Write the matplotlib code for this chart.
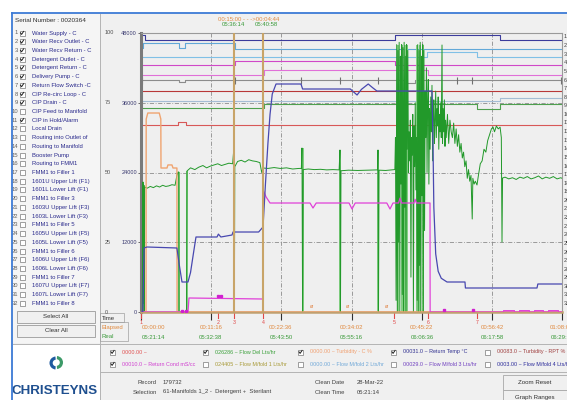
import numpy as np
import matplotlib.pyplot as plt
from matplotlib.patches import Rectangle, Wedge

plt.rcParams['font.family'] = ['Liberation Sans', 'DejaVu Sans']

# ---- left channel list ----
channels = ["Water Supply - C", "Water Recv Outlet - C", "Water Recv Return - C",
            "Detergent Outlet - C", "Detergent Return - C", "Delivery Pump - C",
            "Return Flow Switch -C", "CIP Re-circ Loop - C", "CIP Drain - C",
            "CIP Feed to Manifold", "CIP in Hold/Alarm", "Local Drain",
            "Routing into Outlet of", "Routing to Manifold", "Booster Pump",
            "Routing to FMM1", "FMM1 to Filler 1", "1601U Upper Lift (F1)",
            "1601L Lower Lift (F1)", "FMM1 to Filler 3", "1603U Upper Lift (F3)",
            "1603L Lower Lift (F3)", "FMM1 to Filler 5", "1605U Upper Lift (F5)",
            "1605L Lower Lift (F5)", "FMM1 to Filler 6", "1606U Upper Lift (F6)",
            "1606L Lower Lift (F6)", "FMM1 to Filler 7", "1607U Upper Lift (F7)",
            "1607L Lower Lift (F7)", "FMM1 to Filler 8"]
checked = [1, 2, 3, 4, 5, 6, 7, 8, 9, 11]

# ---- digital channels: switch times (min) and level held after each ----
ch1_t = [0, 0.65, 41.03, 57.99]
ch1_v = [47655, 46795, 47655, 46795]
ch2_t = [0, 0.4, 6.14, 7.11, 15.18]
ch2_v = [45419, 46279, 45419, 46279, 45299]
ch3_t = [0, 46.2, 54.27]
ch3_v = [43870, 44730, 43870]
ch4_t = [0, 15.18, 41.03]
ch4_v = [42494, 43182, 42494]
ch5_t = [0, 19.87, 46.36]
ch5_v = [40774, 41634, 40774]
ch6_t = [0, 6.14, 7.11, 42.64, 44.26]
ch6_v = [39913, 39569, 39913, 39397, 39913]
ch6_ticks = [0.1, 15.18, 25.84, 32.14, 38.28, 51.04, 53.46, 67.9]
ch7_t = [0]
ch7_v = [38021]
ch8_t = [0, 57.99]
ch8_v = [36301, 36817]
ch9_t = [0, 19.87, 54.27, 57.99]
ch9_v = [35096, 35784, 34924, 35784]
ch11_t = [0, 5.98, 7.27]
ch11_v = [32171, 32688, 32171]

# ---- analog traces ----
orange_t = [0, 0.81, 0.84, 1.1, 2.95, 3.2, 3.23, 4.2, 4.35, 5.0, 5.17, 5.8, 5.83, 68]
orange_v = [0, 0, 33200, 34236, 34236, 33200, 24774, 24774, 25300, 25300, 24774, 24774, 0, 0]

mag_t = [0, 7.59, 7.75, 19.71, 19.72, 20.2, 20.84, 27.3, 27.78, 28.3, 33.6, 34.08, 34.6,
         39.7, 40.22, 40.7, 41.6, 41.84, 42.1, 44.1, 44.26, 44.5, 46.68, 46.7, 68]
mag_v = [0, 0, 2409, 2236, 20989, 19800, 18752, 18752, 17892, 18752, 18752, 17720, 18752,
         18752, 17720, 18752, 18752, 19600, 18752, 18752, 19400, 18752, 18752, 0, 0]
pulse_start = [58.5, 61.0, 63.4, 65.8]
pulse_end = [60.2, 62.7, 65.0, 67.4]
mark_t = [6.6, 7.2, 12.5, 13.0, 49.0, 53.6]
mark_v = [200, 200, 2700, 2700, 300, 300]

temp_t = [0, 0.3, 0.5, 0.97, 5.8, 6.2, 6.62, 7.59, 8.0, 8.5, 8.88, 12.28, 12.5, 12.9, 14.7,
          14.86, 19.0, 19.71, 20.1, 20.5, 20.84, 21.2, 21.81, 25.84, 26.1, 32.14, 33.8,
          34.9, 35.6, 36.7, 37.4, 38.1, 47.0, 47.15, 47.3, 47.6, 48.0, 48.5, 49.43, 52.33,
          52.4, 63.96, 64.1, 68]
temp_v = [0, 0, 11011, 11183, 11011, 8000, 5161, 5161, 6800, 10300, 12903, 12903, 13400,
          12903, 13247, 13763, 13763, 14623, 22000, 29000, 34000, 37500, 39225, 39225,
          38365, 38365, 38365, 37333, 38300, 39225, 38600, 38021, 38021, 30000, 18000,
          10000, 7000, 5800, 5161, 5161, 4129, 4129, 4817, 4817]

flow_t = [0, 0.25, 0.32, 0.38, 0.45, 0.52, 0.6, 1.0, 1.5, 2.0, 2.5, 3.0, 3.5, 4.0, 4.5,
          5.0, 5.5, 5.8, 6.0, 6.1, 6.14, 7.35, 7.43, 8.0, 8.7, 9.3, 10.0, 10.6, 11.2, 11.8,
          12.4, 13.0, 13.6, 14.2, 14.8, 15.02, 15.08, 15.15, 15.6, 16.2, 16.8, 17.4, 18.0,
          18.6, 19.2, 19.5, 19.71, 20.5, 21.5, 22.5, 23.5, 24.5, 25.5, 25.9, 26.0, 26.1,
          26.2, 27.0, 28.0, 29.0, 30.0, 31.0, 32.0, 32.14, 32.22, 32.3, 33.5, 35.0, 36.5,
          38.2, 38.28, 38.36, 38.45, 39.5, 40.5, 41.0,
          41.1, 41.2, 41.3, 41.4, 41.5, 41.6, 41.7, 41.8, 41.9, 42.0, 42.1, 42.2, 42.3,
          42.4, 42.5, 42.6, 42.7, 42.8, 42.9, 43.0, 43.1, 43.2, 43.3, 43.4, 43.5, 43.6,
          43.7, 43.8, 43.9, 44.0, 44.1, 44.2, 44.3, 44.4, 44.5, 44.6, 44.7, 44.8, 44.9,
          45.0, 45.1, 45.2, 45.3, 45.4, 45.5, 45.6, 45.7, 45.8, 45.9, 46.0, 46.1, 46.2,
          46.3, 46.4, 46.5, 46.6, 46.7, 46.8, 46.9, 47.0, 47.1, 47.2, 47.3, 47.4, 47.5,
          47.6, 47.7, 47.8, 47.9, 48.0, 48.1, 48.2, 48.3, 48.4, 48.5, 48.62, 48.7, 48.8,
          48.9, 49.0, 49.1, 49.2, 49.3, 49.5, 49.7, 49.9, 50.1, 50.3, 50.5, 50.7, 50.9,
          51.1, 51.3, 51.5, 51.7, 51.9, 52.1, 52.3, 52.5, 52.7, 52.9, 53.1, 53.3, 53.5,
          53.6, 53.8, 54.0, 54.27, 54.5, 54.8, 55.1, 55.4, 55.7, 56.0, 56.3, 56.6, 56.86,
          57.1, 57.4, 57.7, 58.0, 58.2, 58.31, 58.4, 58.8, 59.4, 60.0, 60.6, 61.2, 61.8,
          62.4, 63.0, 63.6, 64.2, 64.8, 65.4, 66.0, 66.6, 67.2, 67.8, 68]
flow_v = [0, 0, 22365, 1500, 21800, 0, 21505, 21300, 21600, 21400, 21700, 21500, 21800,
          21600, 21700, 21900, 21800, 23500, 24086, 24086, 0, 0, 24258, 24800, 24500, 24900,
          25200, 24800, 25100, 25300, 25500, 25200, 25400, 25600, 25500, 28387, 0, 25000,
          25900, 26100, 25800, 26200, 26000, 25900, 25700, 24000, 24774, 24700, 24850,
          24700, 24800, 24600, 24700, 24700, 28215, 0, 24500, 24600, 24500, 24550, 24450,
          24500, 24450, 27871, 0, 24300, 24400, 24350, 24400, 24450, 27871, 0, 24400,
          24350, 24450, 24500,
          30000, 2000, 46000, 0, 45000, 12000, 46400, 0, 44000, 22000, 46000, 3000, 45500,
          0, 46400, 18000, 44000, 0, 46000, 28000, 45000, 24000, 31000, 26000, 33000, 6000,
          30000, 27000, 34000, 0, 32000, 25000, 36000, 21000, 30000, 2000, 46000, 0, 45000,
          8000, 46400, 0, 44000, 20000, 46000, 0, 45000, 14000, 38000, 30000, 42000, 24000,
          36000, 40000, 22000, 35000, 28000, 37000, 31000, 39000, 26000, 34000, 36500,
          29000, 33000, 38000, 30000, 35000, 32000, 37000, 28000, 34000, 31000, 36000,
          30000, 45935, 29000, 35000, 31000, 36500, 28500, 33000, 30000, 34000, 29000,
          33000, 31000, 30000, 32500, 29000, 31500, 28500, 30500, 27500, 29000, 26500,
          27500, 25000, 26000, 23000, 24500, 22500, 23500, 16000, 23000, 22000, 22500,
          21849, 23500, 25500, 26000, 28000, 27500, 29500, 30500, 31500, 31828, 31000,
          32000, 31500, 31800, 30000, 12043, 23054, 23200, 22900, 23100, 22800, 23200,
          23000, 23300, 22900, 23100, 23400, 22900, 23200, 23000, 23300, 22900, 23100, 23000]
drop_t = [0.45, 6.14, 7.43, 15.05, 26.1, 32.2, 38.35, 41.5, 42.16, 42.64, 42.97, 44.58,
          45.07, 45.55]
drop_top = [21800, 24086, 24258, 28387, 28215, 27871, 27871, 46000, 46000, 46000, 46000,
            46000, 46000, 46000]

# ---- time axis ----
cursor_t = [15.0, 19.73]
grid_t = [11.27, 22.6, 34.03, 45.37, 56.7]
elapsed_lbl = ["00:11:16", "00:22:36", "00:34:02", "00:45:22", "00:56:42"]
real_lbl = ["05:32:38", "05:43:50", "05:55:16", "06:06:36", "06:17:58"]
event_t = [0.0, 12.44, 15.0, 19.73, 40.87, 46.36, 54.27]
orange_marks = [27.6, 33.4, 39.7]

fig = plt.figure(figsize=(5.67, 4.0), dpi=100, facecolor='white')
bg = fig.add_axes([0, 0, 1, 1], zorder=0)
bg.set_xlim(0, 567)
bg.set_ylim(400, 0)
bg.axis('off')


def box(x0, y0, x1, y1, fc, ec='none', lw=0.6, z=1):
    bg.add_patch(Rectangle((x0, y0), x1 - x0, y1 - y0, facecolor=fc, edgecolor=ec,
                           linewidth=lw, zorder=z))


def checkbox(x, y, on):
    box(x, y - 2.5, x + 5, y + 2.5, 'white', '#7a7a7a', 0.5, 3)
    if on:
        bg.plot([x + 1, x + 2.1, x + 4.1], [y - 0.1, y + 1.4, y - 1.6], color='#202020',
                lw=0.7, zorder=4)


# window background and frames
box(12, 13, 567, 400, '#f0f0f0')
box(13, 14, 100, 343, '#f5f5f5')
box(13, 344, 100, 400, 'white')
bg.plot([12, 567], [13, 13], color='#3d7bd6', lw=1.3, zorder=5)
bg.plot([12, 12], [13, 400], color='#3d7bd6', lw=1.3, zorder=5)
bg.plot([100, 100], [14, 400], color='#b4b4b4', lw=0.7, zorder=2)
bg.plot([13, 567], [343.5, 343.5], color='#b4b4b4', lw=0.7, zorder=2)
bg.plot([100, 567], [372, 372], color='#b4b4b4', lw=0.7, zorder=2)

# channel list
bg.text(15, 20, "Serial Number : 0020364", fontsize=4.6, color='#303030', va='center')
for i, name in enumerate(channels):
    y = 33 + 8.72 * i
    bg.text(18, y, str(i + 1), fontsize=4.2, color='#606060', va='center', ha='right')
    checkbox(19.5, y, (i + 1) in checked)
    bg.text(32, y, name, fontsize=4.2, color='#2a2a8c', va='center')

for y0, label in [(311, "Select All"), (325, "Clear All")]:
    box(17, y0, 95, y0 + 12, '#f0f0f0', '#9a9a9a', 0.6, 2)
    bg.text(56, y0 + 6, label, fontsize=4.4, color='#303030', ha='center', va='center')

# logo
bg.add_patch(Wedge((56, 363), 6.5, 95, 265, width=3.2, facecolor='#1f5aa0', zorder=3))
bg.add_patch(Wedge((56.5, 362.5), 6.5, -85, 85, width=3.2, facecolor='#3c9a68', zorder=3))
bg.text(55, 391, "CHRISTEYNS", fontsize=9.6, fontweight='bold', color='#1e4f8f',
        ha='center', va='center')

# outer percent scale
for y, lbl in [(33, "100"), (103, "75"), (173, "50"), (243, "25"), (312, "0")]:
    bg.text(105, y, lbl, fontsize=4, color='#505050', va='center')

# right-hand channel numbers (cut by the window edge)
for i in range(32):
    bg.text(563.5, 37 + 8.6 * i, str(i + 1), fontsize=4, color='#404040', va='center')

# time label box
box(100, 313, 124, 322, 'none', '#a0a0a0', 0.5, 2)
box(100, 322, 128, 341, 'none', '#a0a0a0', 0.5, 2)
bg.text(102, 318, "Time", fontsize=4.3, color='#303030', va='center')
bg.text(101, 327.5, "Elapsed", fontsize=4.3, color='#e08a40', va='center')
bg.text(102, 336.5, "Real", fontsize=4.3, color='#3a9a3a', va='center')

# legend rows
legend_rows = [
    [(110, True, "0000.00 ~", '#e05050'),
     (203, True, "026286 ~ Flow Del Lts/hr", '#3aa03a'),
     (298, True, "0000.00 ~ Turbidity - C %", '#f0a070'),
     (391, True, "00031.0 ~ Return Temp \u00b0C", '#303090'),
     (485, False, "00083.0 ~ Turbidity - RPT %", '#a04040')],
    [(110, True, "00010.0 ~ Return Cond mS/cc", '#d040d0'),
     (203, False, "024405 ~ Flow M/fold 1 Lts/hr", '#a89a38'),
     (298, False, "0000.00 ~ Flow M/fold 2 Lts/hr", '#70a8d8'),
     (391, False, "00029.0 ~ Flow M/fold 3 Lts/hr", '#7040c0'),
     (485, False, "0003.00 ~ Flow M/fold 4 Lts/hr", '#2a2a9a')],
]
for y, row in zip([352, 364], legend_rows):
    for x, on, label, col in row:
        checkbox(x, y, on)
        bg.text(x + 12, y, label, fontsize=3.9, color=col, va='center')

# info panel
info_left = [("Record", "179732"), ("Selection", "61-Manifolds 1_2 -  Detergent +  Sterilant")]
info_right = [("Clean Date", "28-Mar-22"), ("Clean Time", "05:21:14"), ("Duration", "01:08:00")]
for i, (k, v) in enumerate(info_left):
    bg.text(157, 382 + 10 * i, k, fontsize=4.2, color='#404040', ha='right', va='center')
    bg.text(163, 382 + 10 * i, v, fontsize=4.2, color='#404040', va='center')
for i, (k, v) in enumerate(info_right):
    bg.text(315, 382 + 10 * i, k, fontsize=4.2, color='#404040', va='center')
    bg.text(357, 382 + 10 * i, v, fontsize=4.2, color='#404040', va='center')
box(503, 375, 570, 390, '#f0f0f0', '#a8a8a8', 0.6, 2)
box(503, 390, 570, 405, '#f0f0f0', '#a8a8a8', 0.6, 2)
bg.text(535, 383, "Zoom Reset", fontsize=4.4, color='#303030', ha='center', va='center')
bg.text(535, 397, "Graph Ranges", fontsize=4.4, color='#303030', ha='center', va='center')

# ---- main chart ----
ax = fig.add_axes([141 / 567, 88 / 400, 421 / 567, 279 / 400], zorder=2)
ax.set_facecolor('#efefef')
ax.set_xlim(0, 68)
ax.set_ylim(0, 48000)

for v in [12000, 24000, 36000]:
    ax.axhline(v, color='#8c8c8c', lw=0.6, dashes=(5, 2, 1, 2), zorder=1)
for t in grid_t:
    ax.axvline(t, color='#8c8c8c', lw=0.6, dashes=(5, 2, 1, 2), zorder=1)

digital = [(ch1_t, ch1_v, '#3b3b9c'), (ch2_t, ch2_v, '#62a8d8'), (ch3_t, ch3_v, '#80c0e6'),
           (ch4_t, ch4_v, '#d048c8'), (ch5_t, ch5_v, '#e070d8'), (ch6_t, ch6_v, '#8c8c8c'),
           (ch7_t, ch7_v, '#b83838'), (ch8_t, ch8_v, '#a4bcd4'), (ch9_t, ch9_v, '#4ea04e'),
           (ch11_t, ch11_v, '#d85858')]
for t, v, col in digital:
    ax.step(t + [68], v + [v[-1]], where='post', color=col, lw=0.8, zorder=2)
ax.vlines(ch6_ticks, 39913 - 700, 39913 + 500, color='#707070', lw=0.8, zorder=2)

ax.vlines(drop_t, 0, drop_top, color='#78cc78', lw=1.3, zorder=2)
ax.plot(flow_t, flow_v, color='#22992a', lw=0.7, zorder=3)
ax.plot(orange_t, orange_v, color='#f0a470', lw=1.0, zorder=3)
ax.plot(mag_t, mag_v, color='#e040d8', lw=0.9, zorder=4)
for s, e in zip(pulse_start, pulse_end):
    ax.plot([s, s, e, e], [0, 350, 350, 0], color='#e040d8', lw=0.7, zorder=4)
ax.plot(mark_t, mark_v, 's', color='#d020d0', ms=1.6, zorder=4)
ax.plot(temp_t, temp_v, color='#4848b0', lw=0.9, zorder=4)
for t in orange_marks:
    ax.text(t, 500, "\u00f8", fontsize=4, color='#e08040', ha='center', va='bottom', zorder=4)

for t in cursor_t:
    ax.axvline(t, color='#c8a468', lw=1.5, zorder=5)

for side in ['top', 'right']:
    ax.spines[side].set_color('#9a9a9a')
ax.spines['left'].set_color('#7a7a7a')
ax.spines['left'].set_linewidth(2.2)
ax.spines['bottom'].set_color('#c0a070')
ax.spines['bottom'].set_linewidth(1.8)

ax.set_yticks([0, 12000, 24000, 36000, 48000])
ax.set_yticklabels(['0', '12000', '24000', '36000', '48000'])
ax.tick_params(axis='y', labelsize=4, labelcolor='#3a3a70', length=2, width=0.6,
               pad=1, color='#505050')
ax.set_xticks([0] + grid_t + [68])
ax.tick_params(axis='x', length=6, width=0.8, color='#303030', labelbottom=False)

tr = ax.get_xaxis_transform()
ax.text(0.1, -0.057, "00:00:00", transform=tr, fontsize=4.3, color='#e08a40', va='center')
ax.text(0.1, -0.090, "05:21:14", transform=tr, fontsize=4.3, color='#3a9a3a', va='center')
for t, e, r in zip(grid_t, elapsed_lbl, real_lbl):
    ax.text(t, -0.057, e, transform=tr, fontsize=4.3, color='#e08a40', ha='center', va='center')
    ax.text(t, -0.090, r, transform=tr, fontsize=4.3, color='#3a9a3a', ha='center', va='center')
ax.text(68, -0.057, "01:08:00", transform=tr, fontsize=4.3, color='#e08a40', ha='center',
        va='center', clip_on=False)
ax.text(68, -0.090, "06:29:14", transform=tr, fontsize=4.3, color='#3a9a3a', ha='center',
        va='center', clip_on=False)
for i, t in enumerate(event_t):
    ax.plot([t, t], [0, -0.02], transform=tr, color='#e04848', lw=0.8, clip_on=False)
    ax.text(t, -0.036, str(i + 1), transform=tr, fontsize=3.8, color='#e04848',
            ha='center', va='center')

ax.text(17.4, 1.050, "00:15:00 - - ->00:04:44", transform=tr, fontsize=4.3,
        color='#e08a40', ha='center', va='center')
ax.text(cursor_t[0], 1.029, "05:36:14", transform=tr, fontsize=4.3, color='#3a9a3a',
        ha='center', va='center')
ax.text(cursor_t[1] + 0.6, 1.029, "05:40:58", transform=tr, fontsize=4.3, color='#3a9a3a',
        ha='center', va='center')

fig.savefig("out.png", dpi=100)
